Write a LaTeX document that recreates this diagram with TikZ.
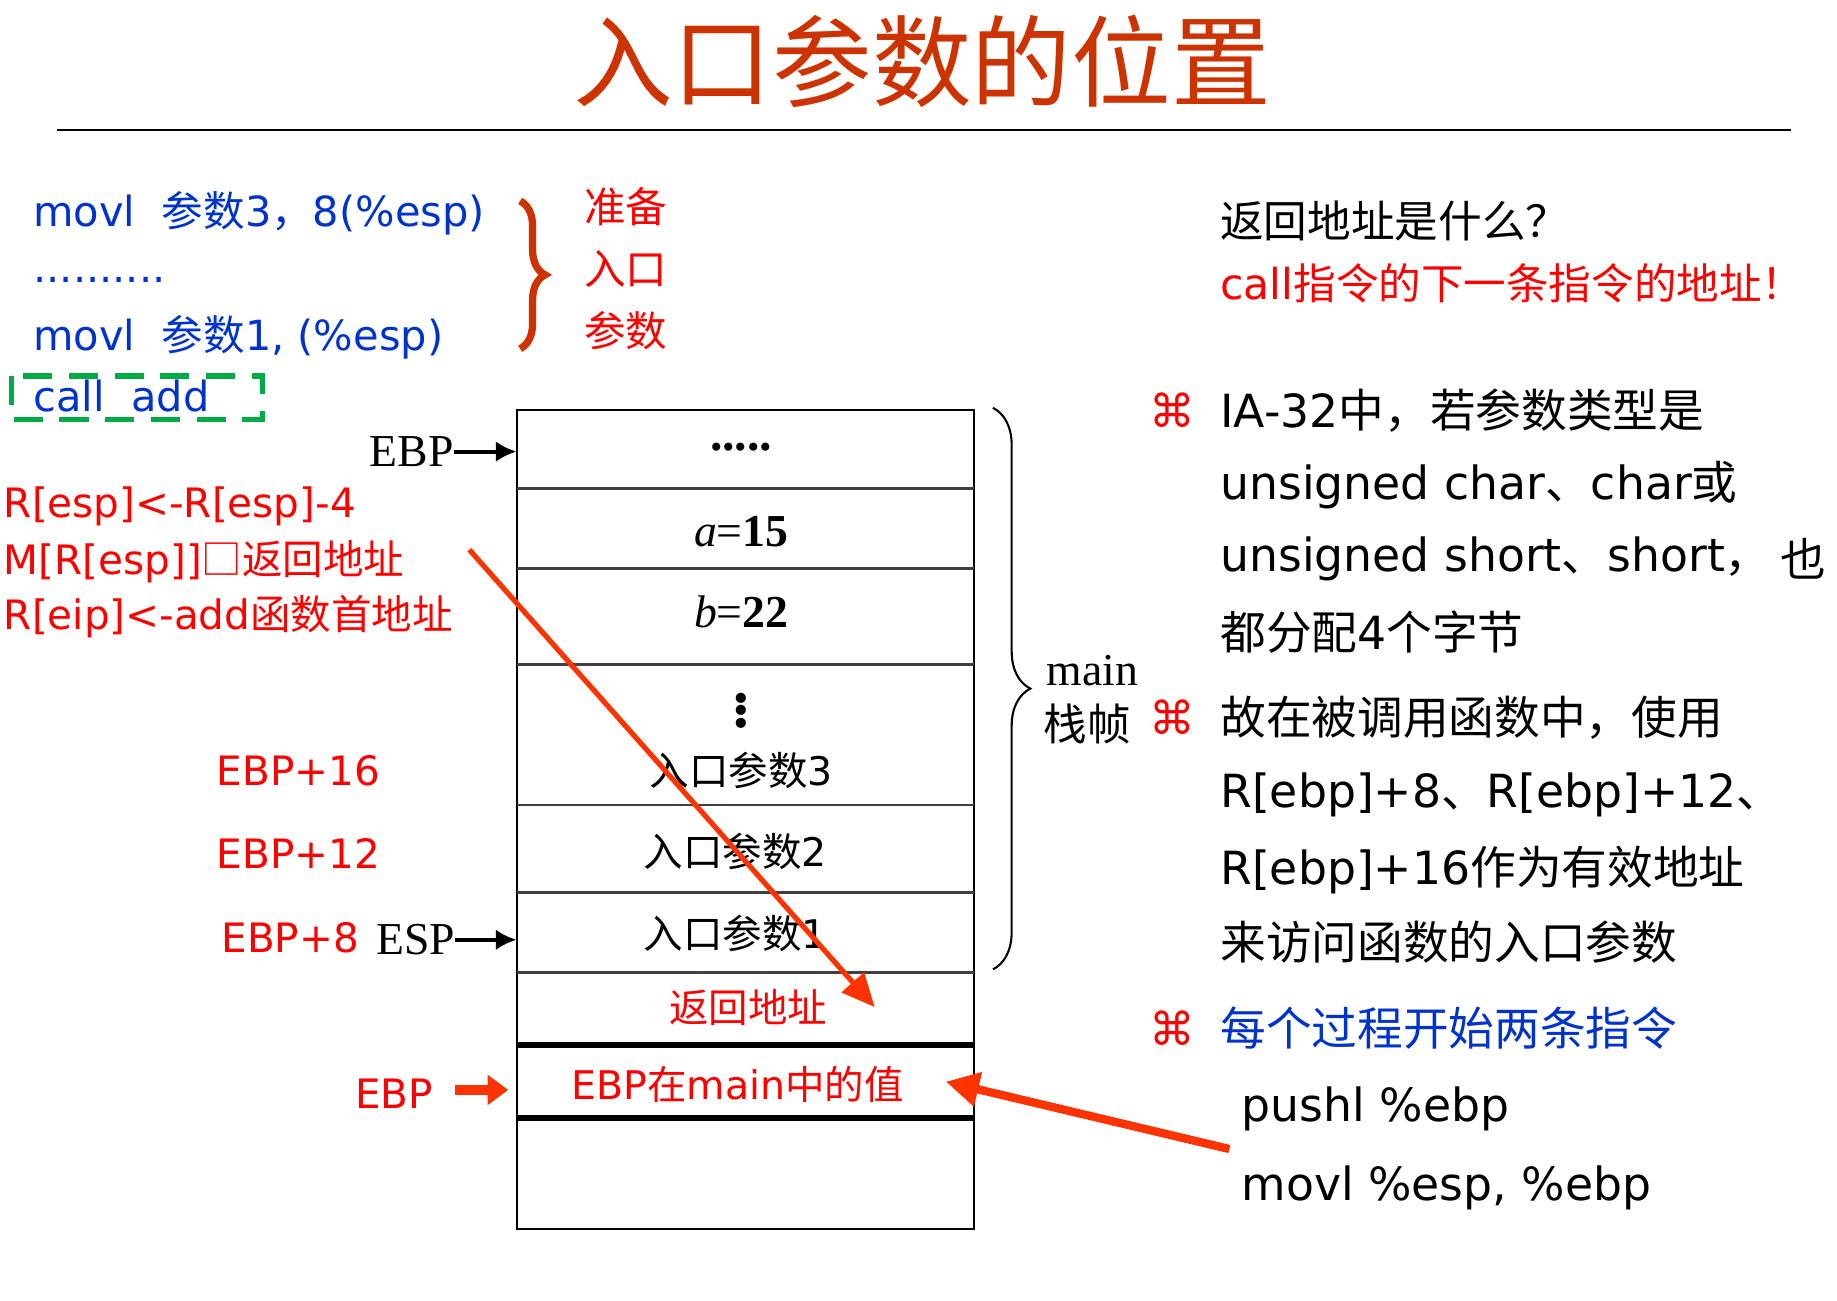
\documentclass[tikz,border=0pt]{standalone}
\usepackage{fontspec}
\setmainfont{DejaVu Sans}
\newfontfamily\cjk{Noto Sans CJK SC}
\newfontfamily\tms{Liberation Serif}
\usetikzlibrary{decorations.pathreplacing,arrows.meta}
\newcommand{\C}[1]{{\cjk #1}}
\definecolor{tred}{HTML}{CC3300}
\definecolor{cblue}{HTML}{0033CC}
\definecolor{ored}{HTML}{FF3300}
\definecolor{dgreen}{HTML}{00AA44}
\begin{document}
\begin{tikzpicture}[x=0.02cm,y=-0.02cm,
  lt/.style={anchor=west,inner sep=0pt},
  big/.style={font=\fontsize{22}{24}\selectfont},
  code/.style={font=\fontsize{20}{24}\selectfont,text=cblue},
  rl/.style={font=\fontsize{19.5}{22}\selectfont,text=red},
  stk/.style={font=\fontsize{19}{22}\selectfont,inner sep=0pt},
  ser/.style={font=\tms\fontsize{22}{24}\selectfont,inner sep=0pt}]
\useasboundingbox (0,0) rectangle (1554,1100);
% title
\node[inner sep=0pt,text=tred,font=\cjk\fontsize{48}{50}\selectfont] (title) at (780,52) {入口参数的位置};
\draw[line width=1.2pt] (48,110) coordinate (l1) -- (1515,110) coordinate (l2);
% code
\node[lt,code] (c1) at (28,180) {movl \ \C{参数}3\C{，}8(\%esp)};
\node[lt,code] (c2) at (28,237) {..........};
\node[lt,code] (c3) at (28,285) {movl \ \C{参数}1, (\%esp)};
\node[lt,code] (c4) at (28,335) {call \ add};
\draw[dgreen,line width=2.5pt,dash pattern=on 14pt off 8pt] (10,318) rectangle (222,355);
\draw[tred,line width=3.5pt,decorate,decoration={brace,amplitude=12pt}] (440,170) -- (440,295);
\node[stk,text=red,font=\cjk\fontsize{20}{24}\selectfont,align=left,anchor=north west] (prep) at (494,158) {准备\\[6pt]入口\\[6pt]参数};
% stack
\def\L{437}\def\R{824}
\draw[line width=1pt] (\L,347) rectangle (\R,1040);
\foreach \y in {413,481,562,681,755,823}{\draw[line width=1.4pt,black!75] (\L,\y) -- (\R,\y);}
\draw[line width=3pt] (\L,884) -- (\R,884);
\draw[line width=3pt] (\L,946) -- (\R,946);
\node[ser,font=\tms\bfseries\fontsize{24}{24}\selectfont] (s0) at (627,378) {.....};
\node[ser] (s1) at (627,450) {\textit{a}=\textbf{15}};
\node[ser] (s2) at (627,518) {\textit{b}=\textbf{22}};
\node[ser,font=\tms\bfseries\fontsize{30}{30}\selectfont] (s3) at (627,596) {\vdots};
\node[stk] (s4) at (627,652) {\C{入口参数}3};
\node[stk] (s5) at (622,720) {\C{入口参数}2};
\node[stk] (s6) at (622,790) {\C{入口参数}1};
\node[stk,text=red] (s7) at (633,852) {\C{返回地址}};
\node[stk,text=red] (s8) at (624,917) {EBP\C{在}main\C{中的值}};
% left labels
\node[ser,anchor=east] (ebp1) at (384,382) {EBP};
\draw[-{Latex[length=10pt,width=10pt]},line width=2pt] (ebp1) -- (\L,382);
\node[lt,rl] (r1) at (3,428) {R[esp]<-R[esp]-4};
\node[lt,rl] (r2) at (3,475) {M[R[esp]]\C{□返回地址}};
\node[lt,rl] (r3) at (3,522) {R[eip]<-add\C{函数首地址}};
\node[lt,rl] (e16) at (183,652) {EBP+16};
\node[lt,rl] (e12) at (183,722) {EBP+12};
\node[lt,rl] (e8) at (187,793) {EBP+8};
\node[ser,anchor=west] (esp) at (318,795) {ESP};
\draw[-{Latex[length=10pt,width=10pt]},line width=2pt] (esp) -- (\L,795);
\node[lt,rl] (ebp2) at (300,925) {EBP};
\draw[-{Triangle[length=10pt,width=14pt]},line width=5pt,ored] (385,922) -- (430,922);
% right brace
\draw[line width=1pt,decorate,decoration={brace,amplitude=18pt}] (840,345) -- (840,820);
\node[ser] (main) at (924,567) {main};
\node[stk,font=\cjk\fontsize{21}{22}\selectfont] (zz) at (920,612) {栈帧};
% red arrows
\draw[ored,line width=2.5pt,-{Triangle[length=16pt,width=14pt]}] (397,465) -- (740,852);
\coordinate (a2) at (1040,972);
\draw[ored,line width=4pt,-{Triangle[length=16pt,width=16pt]}] (a2) -- (800,915);
% right text
\node[lt,font=\cjk\fontsize{21}{24}\selectfont] (q1) at (1032,187) {返回地址是什么？};
\node[lt,text=red,font=\fontsize{20.5}{24}\selectfont] (q2) at (1032,240) {call\C{指令的下一条指令的地址！}};
\node[lt,big,text=red] (k1) at (972,347) {⌘};
\node[lt,big] (t1) at (1032,347) {IA-32\C{中，若参数类型是}};
\node[lt,big] (t2) at (1032,410) {unsigned char\C{、}char\C{或}};
\node[lt,big] (t3) at (1032,473) {unsigned short\C{、}short\C{，}};
\node[lt,big] (t3b) at (1506,473) {\C{也}};
\node[lt,big] (t4) at (1032,535) {\C{都分配}4\C{个字节}};
\node[lt,big,text=red] (k2) at (972,607) {⌘};
\node[lt,big] (t5) at (1032,607) {\C{故在被调用函数中，使用}};
\node[lt,big] (t6) at (1032,672) {R[ebp]+8\C{、}R[ebp]+12\C{、}};
\node[lt,big] (t7) at (1032,736) {R[ebp]+16\C{作为有效地址}};
\node[lt,big] (t8) at (1032,797) {\C{来访问函数的入口参数}};
\node[lt,big,text=red] (k3) at (972,870) {⌘};
\node[lt,big,text=cblue] (t9) at (1032,870) {\C{每个过程开始两条指令}};
\node[lt,big] (t10) at (1050,938) {pushl \%ebp};
\node[lt,big] (t11) at (1050,1005) {movl \%esp, \%ebp};
\end{tikzpicture}
\end{document}
